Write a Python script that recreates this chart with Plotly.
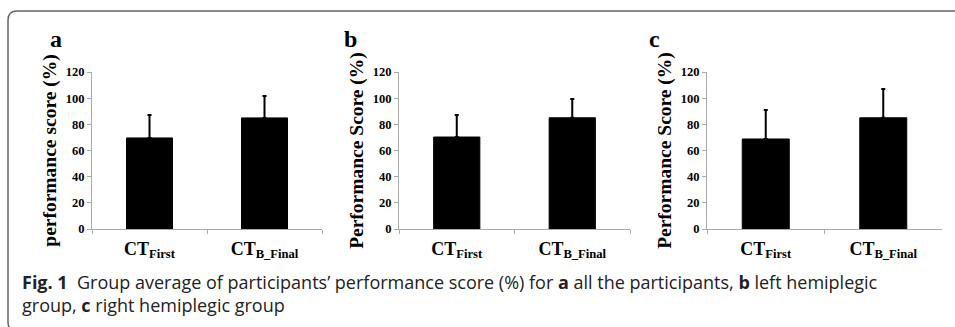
import plotly.graph_objects as go

W, H = 955, 327

categories = ["CT_First", "CT_B_Final"]
tick_labels = ["CT<sub>First</sub>", "CT<sub>B_Final</sub>"]
panel_letters = ["a", "b", "c"]
y_titles = ["performance score (%)", "Performance Score (%)", "Performance Score (%)"]
means_a = [69.6, 84.9]
err_a = [17.6, 16.8]
means_b = [70.3, 85.0]
err_b = [16.9, 14.4]
means_c = [68.8, 85.0]
err_c = [22.2, 22.0]
y_ticks = [0, 20, 40, 60, 80, 100, 120]
caption = ("<b>Fig. 1</b>  Group average of participants’ performance score (%) for <b>a</b> all the "
           "participants, <b>b</b> left hemiplegic<br>group, <b>c</b> right hemiplegic group")

means = [means_a, means_b, means_c]
errs = [err_a, err_b, err_c]

# pixel layout of each panel: (x_left, x_right)
panel_px = [(92, 322), (399, 630), (707, 942)]
y_top_px, y_bot_px = 72, 229

def px(x):
    return x / W

def py(y):
    return 1 - y / H

fig = go.Figure()
serif = "Liberation Serif, Times New Roman, serif"

for i in range(3):
    xa = "x" if i == 0 else f"x{i+1}"
    ya = "y" if i == 0 else f"y{i+1}"
    fig.add_trace(go.Bar(
        x=categories, y=means[i],
        marker=dict(color="black", line=dict(color="black", width=1)),
        width=0.4,
        error_y=dict(type="data", array=errs[i], arrayminus=[0, 0], symmetric=False,
                     color="black", thickness=2, width=2),
        xaxis=xa, yaxis=ya, showlegend=False,
    ))
    xl, xr = panel_px[i]
    xkey = "xaxis" if i == 0 else f"xaxis{i+1}"
    ykey = "yaxis" if i == 0 else f"yaxis{i+1}"
    fig.layout[xkey] = dict(
        domain=[px(xl), px(xr)], anchor=ya, automargin=False,
        tickmode="array", tickvals=categories, ticktext=tick_labels,
        tickson="boundaries", ticks="outside", ticklen=4, tickcolor="#aaaaaa",
        showline=True, linecolor="#aaaaaa", linewidth=1,
        tickfont=dict(family=serif, size=18, color="black", weight="bold"),
        ticklabelstandoff=3,
        showgrid=False, zeroline=False, fixedrange=True,
    )
    fig.layout[ykey] = dict(
        domain=[py(y_bot_px), py(y_top_px)], anchor=xa, automargin=False,
        range=[0, 120], tickvals=y_ticks,
        ticks="outside", ticklen=4, tickcolor="#aaaaaa",
        showline=True, linecolor="#aaaaaa", linewidth=1,
        tickfont=dict(family=serif, size=12.5, color="black", weight="bold"),
        showgrid=False, zeroline=False, fixedrange=True,
        title=dict(text=y_titles[i], standoff=3,
                   font=dict(family=serif, size=19.5, color="black", weight="bold")),
    )

letter_px = [(48, 24), (350, 24), (662, 24)]
for (lx, ly), letter in zip(letter_px, panel_letters):
    fig.add_annotation(x=px(lx), y=py(ly), xref="paper", yref="paper",
                       text=f"<b>{letter}</b>", showarrow=False,
                       font=dict(family=serif, size=24, color="black"))

cap_font = dict(family="Open Sans, Noto Sans, sans-serif", size=18, color="#222222")
fig.add_annotation(x=px(20), y=py(293), xref="paper", yref="paper", xanchor="left", yanchor="middle",
                   align="left", text=caption, showarrow=False, font=cap_font)

# rounded frame (left side, open to the right and bottom edge off-canvas)
L, T, B, R, r = 8, 11, 331, 955, 9
path = (f"M {px(R)} {py(T)} L {px(L + r)} {py(T)} Q {px(L)} {py(T)} {px(L)} {py(T + r)} "
        f"L {px(L)} {py(B - r)} Q {px(L)} {py(B)} {px(L + r)} {py(B)} L {px(R)} {py(B)}")
fig.add_shape(type="path", path=path, xref="paper", yref="paper",
              line=dict(color="#666666", width=1.5))

fig.update_layout(width=W, height=H, margin=dict(l=0, r=0, t=0, b=0),
                  plot_bgcolor="white", paper_bgcolor="white", bargap=0.6)

fig.write_html("out.html", config={"displayModeBar": False},
               post_script="document.body.style.margin='0';document.body.style.overflow='hidden';")
